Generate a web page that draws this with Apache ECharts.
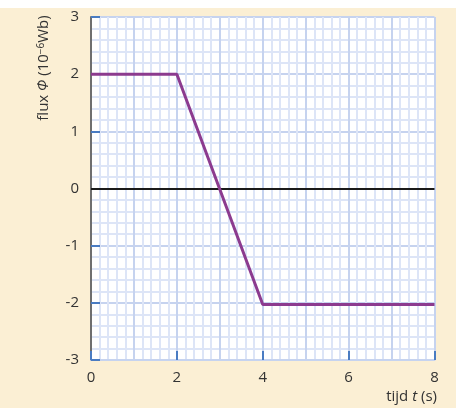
<!DOCTYPE html>
<html>
<head>
<meta charset="utf-8">
<script src="https://cdn.jsdelivr.net/npm/echarts@6/dist/echarts.min.js"></script>
<style>
html,body{margin:0;padding:0;background:#ffffff;}
#c{width:456px;height:408px;background:linear-gradient(#ffffff 0,#ffffff 8px,#fbefd4 8px,#fbefd4 100%);}
</style>
</head>
<body>
<div id="c"></div>
<script>
// data
var time = [0, 2, 4, 8];
var flux = [2, 2, -2.03, -2.03];
var xTicks = [0, 2, 4, 6, 8];
var yTicks = [-3, -2, -1, 0, 1, 2, 3];
var yTitle = 'flux ';
var xTitle = 'tijd ';

var chart = echarts.init(document.getElementById('c'), null, {renderer: 'canvas'});
var FONT = '"Open Sans", "Noto Sans", sans-serif';
var majorC = '#c6d3ef', minorC = '#dde5f7', tickC = '#4a7cc2';

chart.setOption({
  animation: false,
  backgroundColor: 'transparent',
  grid: {left: 91, right: 21.5, top: 17, bottom: 48, show: true, backgroundColor: '#ffffff', borderWidth: 0},
  xAxis: [{
    type: 'value', min: 0, max: 8, interval: 1,
    axisLine: {show: true, onZero: false, lineStyle: {color: majorC, width: 2}},
    axisTick: {show: false}, axisLabel: {show: false},
    splitLine: {show: true, lineStyle: {color: majorC, width: 2}},
    minorTick: {show: false, splitNumber: 5},
    minorSplitLine: {show: true, lineStyle: {color: minorC, width: 2}}
  }, {
    type: 'value', min: 0, max: 8, interval: 2, position: 'bottom',
    axisLine: {show: false, onZero: false},
    axisTick: {show: true, inside: true, length: 9, lineStyle: {color: tickC, width: 2}},
    axisLabel: {show: true, margin: 10, color: '#333', fontSize: 15, fontFamily: FONT,
      formatter: function (v) { return xTicks.indexOf(v) >= 0 ? String(v) : ''; }},
    splitLine: {show: false}
  }],
  yAxis: [{
    type: 'value', min: -3, max: 3, interval: 1,
    axisLine: {show: true, onZero: false, lineStyle: {color: '#6f6f6f', width: 2}},
    axisTick: {show: true, inside: true, length: 9, lineStyle: {color: tickC, width: 2}},
    axisLabel: {show: true, margin: 12, color: '#333', fontSize: 15, fontFamily: FONT,
      formatter: function (v) { return yTicks.indexOf(v) >= 0 ? String(v) : ''; }},
    splitLine: {show: true, lineStyle: {color: majorC, width: 2}},
    minorTick: {show: false, splitNumber: 5},
    minorSplitLine: {show: true, lineStyle: {color: minorC, width: 2}}
  }],
  graphic: [{
    type: 'text', x: 44, y: 68, rotation: Math.PI / 2, z: 10,
    style: {
      text: '{n|' + yTitle + '}{i|Φ}{n| (10}{s|−6}{n|Wb)}',
      align: 'center', verticalAlign: 'middle',
      rich: {
        n: {fontSize: 15, fontFamily: FONT, fill: '#333'},
        i: {fontSize: 15, fontFamily: FONT, fontStyle: 'italic', fill: '#333'},
        s: {fontSize: 10, fontFamily: FONT, fill: '#333', verticalAlign: 'top', padding: [0, 0, 6, 0]}
      }
    }
  }, {
    type: 'text', x: 437, y: 397, z: 10,
    style: {
      text: '{n|' + xTitle + '}{i|t}{n| (s)}',
      align: 'right', verticalAlign: 'middle',
      rich: {
        n: {fontSize: 15, fontFamily: FONT, fill: '#333'},
        i: {fontSize: 15, fontFamily: FONT, fontStyle: 'italic', fill: '#333'}
      }
    }
  }],
  series: [{
    type: 'line', xAxisIndex: 0, yAxisIndex: 0,
    data: time.map(function (t, i) { return [t, flux[i]]; }),
    symbol: 'none',
    lineStyle: {color: '#8c3b8f', width: 3},
    z: 5,
    markLine: {
      silent: true, symbol: 'none', label: {show: false}, z: 4,
      lineStyle: {color: '#1a1a1a', width: 2, type: 'solid'},
      data: [{yAxis: 0}]
    }
  }]
});
</script>
</body>
</html>
